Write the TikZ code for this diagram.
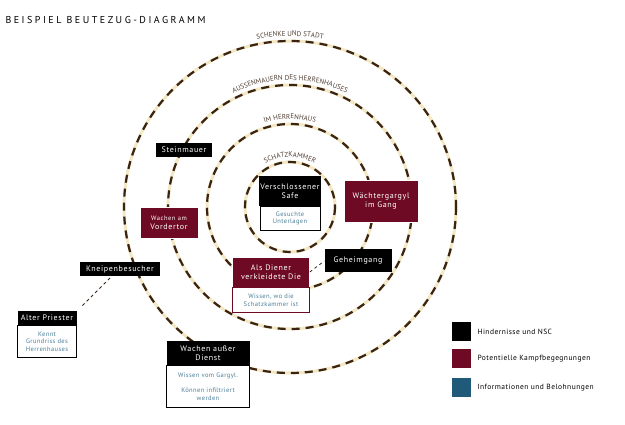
\documentclass[tikz,border=0pt]{standalone}
\usepackage{fontspec}
\setmainfont{PT Sans}
\usetikzlibrary{decorations.text}
\definecolor{cream}{HTML}{F2E8C4}
\definecolor{dbrown}{HTML}{3B2314}
\definecolor{maroon}{HTML}{6E0A24}
\definecolor{infob}{HTML}{4A7E98}
\definecolor{teal}{HTML}{1F5A78}
\tikzset{
  ring/.style={line width=3pt, cream},
  ringd/.style={line width=2.2pt, dbrown, dash pattern=on 8pt off 6pt},
  blk/.style={fill=black, text=white, font=\fontsize{8}{9}\selectfont\addfontfeature{LetterSpace=8}, inner sep=1pt, align=center},
  mar/.style={fill=maroon, text=white, draw=white, line width=0.6pt, font=\fontsize{8}{9}\selectfont\addfontfeature{LetterSpace=8}, inner sep=1pt, align=center},
  info/.style={fill=white, draw=black, line width=0.8pt, text=infob, font=\fontsize{6.5}{7.5}\selectfont\addfontfeature{LetterSpace=6}, inner sep=1pt, align=center, anchor=north},
  arctext/.style={decorate, decoration={text along path, text align=center, text color=dbrown!70!gray, text={#1}}},
  leg/.style={anchor=west, font=\fontsize{7.5}{9}\selectfont\addfontfeature{LetterSpace=6}},
  sq/.style={minimum size=19pt, inner sep=0pt},
}
\begin{document}
\begin{tikzpicture}[x=1pt,y=-1pt]
\useasboundingbox (0,0) rectangle (625,425);
\coordinate (c) at (290,207);
\foreach \r in {45,83,122,166}{
  \draw[ring] (c) circle[radius=\r];
  \draw[ringd] (c) circle[radius=\r];
}
\node[anchor=west, font=\fontsize{10}{12}\selectfont\addfontfeature{LetterSpace=25}] (title) at (2,20) {BEISPIEL BEUTEZUG-DIAGRAMM};
\path[arctext={|\fontsize{7}{8}\selectfont|SCHATZKAMMER}] (c) ++(240:50) arc[start angle=240,end angle=300,radius=50];
\path[arctext={|\fontsize{7}{8}\selectfont|IM HERRENHAUS}] (c) ++(245:88) arc[start angle=245,end angle=295,radius=88];
\path[arctext={|\fontsize{7}{8}\selectfont|AUSSENMAUERN DES HERRENHAUSES}] (c) ++(225:127) arc[start angle=225,end angle=315,radius=127];
\path[arctext={|\fontsize{7}{8}\selectfont|SCHENKE UND STADT}] (c) ++(250:171) arc[start angle=250,end angle=290,radius=171];

\node[blk, minimum width=60pt, minimum height=30pt] (safe) at (290,191) {Verschlossener\\Safe};
\node[info, minimum width=60pt, minimum height=24pt] (safei) at (safe.south) {Gesuchte\\Unterlagen};
\node[mar, minimum width=74pt, minimum height=42pt] (garg) at (381,201) {Wächtergargyl\\im Gang};
\node[mar, minimum width=58pt, minimum height=31pt] (vord) at (169,223) {{\fontsize{6.5}{8}\selectfont Wachen am}\\Vordertor};
\node[blk, minimum width=56pt, minimum height=14pt] (stein) at (184,150) {Steinmauer};
\node[mar, minimum width=77pt, minimum height=30pt] (diebe) at (271,272) {Als Diener\\verkleidete Die};
\node[info, draw=maroon, minimum width=77pt, minimum height=25pt] (diebei) at (diebe.south) {Wissen, wo die\\Schatzkammer ist};
\node[blk, minimum width=67pt, minimum height=23pt] (geh) at (358,261) {Geheimgang};
\draw[dashed, dbrown, thick] (diebe.east) -- (geh.west);
\node[blk, minimum width=80pt, minimum height=14pt] (kneipe) at (120,269) {Kneipenbesucher};
\node[blk, minimum width=59pt, minimum height=14pt] (prie) at (47,318) {Alter Priester};
\node[info, minimum width=59pt, minimum height=32pt] (priei) at (prie.south) {Kennt\\Grundriss des\\Herrenhauses};
\coordinate (k1) at (110,278);
\coordinate (p1) at (81,307);
\draw[dashed, dbrown, thick] (k1) -- (p1);
\node[blk, minimum width=83pt, minimum height=24pt] (wad) at (208,353) {Wachen außer\\Dienst};
\node[info, minimum width=83pt, minimum height=42pt, anchor=north] (wadi) at (wad.south) {Wissen vom Gargyl.\\[8pt]Können infiltriert\\werden};
\node[sq, fill=black] (l1) at (461,332) {};
\node[sq, fill=maroon] (l2) at (461,359) {};
\node[sq, fill=teal] (l3) at (461,388) {};
\node[leg] (t1) at (474,332) {Hindernisse und NSC};
\node[leg] (t2) at (474,359) {Potentielle Kampfbegegnungen};
\node[leg] (t3) at (474,388) {Informationen und Belohnungen};
\end{tikzpicture}
\end{document}
